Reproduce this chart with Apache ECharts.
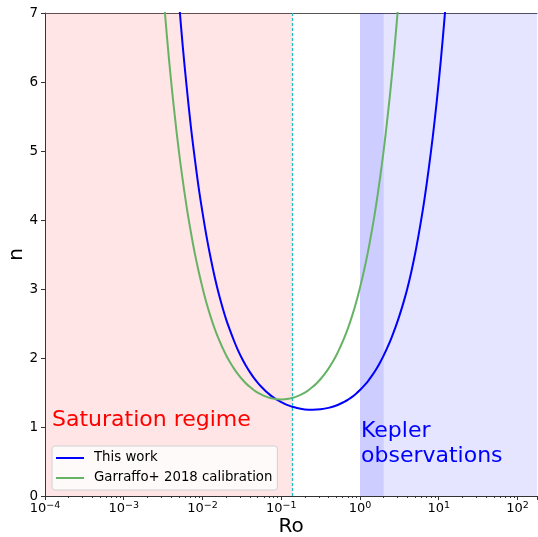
<!DOCTYPE html>
<html><head><meta charset="utf-8">
<script src="https://cdn.jsdelivr.net/npm/echarts@6/dist/echarts.min.js"></script>
<style>html,body{margin:0;padding:0;background:#fff}#c{width:538px;height:537px}</style>
</head><body><div id="c"></div>
<script>
// "This work" curve: Rossby number samples and braking index n
const roThisWork = [0.003981, 0.0044668, 0.005012, 0.0056234, 0.006310, 0.0070795, 0.007943, 0.0089125, 0.01, 0.01122, 0.012589, 0.014125, 0.015849, 0.017783, 0.019953, 0.022387, 0.025119, 0.028184, 0.031623, 0.035481, 0.039811, 0.044668, 0.050119, 0.056234, 0.063096, 0.070795, 0.079433, 0.089125, 0.1, 0.112202, 0.125893, 0.141254, 0.158489, 0.199526, 0.251189, 0.316228, 0.398107, 0.501187, 0.630957, 0.707946, 0.794328, 0.891251, 1, 1.122018, 1.258925, 1.412538, 1.584893, 1.778279, 1.995262, 2.238721, 2.511886, 2.818383, 3.162278, 3.548134, 3.981072, 4.466836, 5.011872, 5.623413, 6.309573, 7.079458, 7.943282, 8.912509, 10, 11.220185, 12.589254, 14.125375];
const nThisWork = [8.79, 7.94, 7.19, 6.51, 5.92, 5.38, 4.91, 4.48, 4.11, 3.77, 3.47, 3.20, 2.96, 2.75, 2.56, 2.40, 2.25, 2.114, 1.996, 1.891, 1.799, 1.716, 1.644, 1.579, 1.523, 1.473, 1.430, 1.392, 1.360, 1.332, 1.309, 1.290, 1.275, 1.255, 1.249, 1.256, 1.277, 1.312, 1.365, 1.398, 1.436, 1.482, 1.535, 1.595, 1.662, 1.740, 1.827, 1.925, 2.035, 2.157, 2.293, 2.443, 2.610, 2.795, 3.00, 3.24, 3.51, 3.82, 4.16, 4.55, 4.98, 5.46, 6.00, 6.61, 7.30, 8.06];
// Garraffo+ 2018 calibration
const roGarraffo = [0.002512, 0.0028184, 0.003162, 0.0035481, 0.003981, 0.0044668, 0.005012, 0.0056234, 0.006310, 0.0070795, 0.007943, 0.0089125, 0.01, 0.01122, 0.012589, 0.014125, 0.015849, 0.017783, 0.019953, 0.022387, 0.025119, 0.028184, 0.031623, 0.035481, 0.039811, 0.044668, 0.050119, 0.056234, 0.063096, 0.070795, 0.079433, 0.089125, 0.1, 0.112202, 0.125893, 0.141254, 0.158489, 0.177828, 0.199526, 0.223872, 0.251189, 0.281838, 0.316228, 0.354813, 0.398107, 0.446684, 0.501187, 0.562341, 0.630957, 0.707946, 0.794328, 0.891251, 1, 1.122018, 1.258925, 1.412538, 1.584893, 1.778279, 1.995262, 2.238721, 2.511886, 2.818383, 3.162278, 3.548134];
const nGarraffo = [8.97, 8.10, 7.33, 6.64, 6.03, 5.49, 5.00, 4.57, 4.18, 3.84, 3.53, 3.26, 3.02, 2.80, 2.61, 2.44, 2.29, 2.16, 2.04, 1.938, 1.846, 1.766, 1.696, 1.635, 1.582, 1.537, 1.499, 1.468, 1.443, 1.424, 1.411, 1.402, 1.400, 1.402, 1.411, 1.424, 1.443, 1.468, 1.499, 1.537, 1.582, 1.635, 1.696, 1.766, 1.846, 1.938, 2.04, 2.16, 2.29, 2.44, 2.61, 2.80, 3.02, 3.26, 3.53, 3.84, 4.18, 4.57, 5.00, 5.49, 6.03, 6.64, 7.33, 8.10];
// axes
const xRange = [1e-4, 177];
const yTicks = [0, 1, 2, 3, 4, 5, 6, 7];
// shaded regions and limits
const saturationRange = [1e-4, 0.14];
const keplerRange = [1, 177];
const keplerCoreRange = [1, 2];
const saturationLimit = 0.14;

const FONT = 'DejaVu Sans';
const chart = echarts.init(document.getElementById('c'), null, {renderer: 'canvas'});
const pairs = (xs, ys) => xs.map((x, i) => [x, ys[i]]);
const sup = e => String(e).replace('-', '\u2212');

chart.setOption({
  animation: false,
  backgroundColor: '#fff',
  textStyle: {fontFamily: FONT},
  grid: {left: 45, right: 1, top: 13, bottom: 41, containLabel: false, outerBoundsMode: 'none', show: false},
  legend: {
    left: 52, top: 446, orient: 'vertical',
    backgroundColor: 'rgba(255,255,255,0.8)', borderColor: '#d0d0d0', borderWidth: 1, borderRadius: 3,
    padding: [5, 5, 5, 4], itemGap: 6, itemWidth: 28, itemHeight: 2, icon: 'rect',
    textStyle: {fontFamily: FONT, fontSize: 13.3, color: '#000', lineHeight: 14, padding: [0, 0, 0, 5]},
    data: ['This work', 'Garraffo+ 2018 calibration']
  },
  xAxis: [{
    type: 'log', logBase: 10, min: xRange[0], max: xRange[1],
    name: 'Ro', nameLocation: 'middle', nameGap: 21, nameMoveOverlap: false,
    nameTextStyle: {fontFamily: FONT, fontSize: 20, color: '#000'},
    axisLine: {show: true, lineStyle: {color: '#333', width: 1}},
    axisTick: {show: true, inside: false, length: 4, lineStyle: {color: '#333'}},
    minorTick: {show: true, splitNumber: 9, length: 2, lineStyle: {color: '#333'}},
    splitLine: {show: false},
    axisLabel: {
      margin: 5, showMaxLabel: false,
      formatter: v => {
        const l = Math.log10(v); const e = Math.round(l);
        if (Math.abs(l - e) > 1e-6) return '';
        return '{b|10}{s|' + sup(e) + '}';
      },
      rich: {
        b: {fontFamily: FONT, fontSize: 13, color: '#000'},
        s: {fontFamily: FONT, fontSize: 9.5, color: '#000', verticalAlign: 'top', padding: [0, 0, 6, 0]}
      }
    }
  }, {
    type: 'log', logBase: 10, min: xRange[0], max: xRange[1], position: 'top',
    axisLine: {show: true, lineStyle: {color: '#555', width: 1}},
    axisTick: {show: false}, axisLabel: {show: false}, splitLine: {show: false}
  }],
  yAxis: {
    type: 'value', min: yTicks[0], max: yTicks[yTicks.length - 1], interval: 1,
    name: 'n', nameLocation: 'middle', nameGap: 18, nameMoveOverlap: false,
    nameTextStyle: {fontFamily: FONT, fontSize: 20, color: '#000'},
    axisLine: {show: true, lineStyle: {color: '#333', width: 1}},
    axisTick: {show: true, inside: false, length: 4, lineStyle: {color: '#333'}},
    splitLine: {show: false},
    axisLabel: {margin: 7, fontFamily: FONT, fontSize: 13.5, color: '#000'}
  },
  series: [
    {
      name: 'This work', type: 'line', data: pairs(roThisWork, nThisWork),
      showSymbol: false, smooth: 0.4, clip: true,
      lineStyle: {color: '#0000ff', width: 2}, itemStyle: {color: '#0000ff'}, z: 3,
      markArea: {
        silent: true,
        data: [
          [{xAxis: saturationRange[0], itemStyle: {color: 'rgba(255,0,0,0.1)'}}, {xAxis: saturationRange[1]}],
          [{xAxis: keplerRange[0], itemStyle: {color: 'rgba(0,0,255,0.1)'}}, {xAxis: keplerRange[1]}],
          [{xAxis: keplerCoreRange[0], itemStyle: {color: 'rgba(0,0,255,0.1)'}}, {xAxis: keplerCoreRange[1]}]
        ]
      },
      markLine: {
        silent: true, symbol: 'none', label: {show: false},
        itemStyle: {color: '#1fbfbf'},
        lineStyle: {type: [3, 2], color: '#1fbfbf', width: 1.2, opacity: 1},
        emphasis: {disabled: true},
        data: [{xAxis: saturationLimit, lineStyle: {color: '#1fbfbf', type: [3, 2], width: 1.2}}]
      }
    },
    {
      name: 'Garraffo+ 2018 calibration', type: 'line', data: pairs(roGarraffo, nGarraffo),
      showSymbol: false, smooth: 0.4, clip: true,
      lineStyle: {color: '#66b366', width: 2}, itemStyle: {color: '#66b366'}, z: 4
    }
  ],
  graphic: [
    {type: 'text', left: 52, top: 409, z: 10, style: {text: 'Saturation regime', fill: '#ff0000', font: '22px "DejaVu Sans"'}},
    {type: 'text', left: 361, top: 419, z: 10, style: {text: 'Kepler\nobservations', fill: '#0000ff', font: '22px "DejaVu Sans"', lineHeight: 25}}
  ]
});
</script></body></html>
